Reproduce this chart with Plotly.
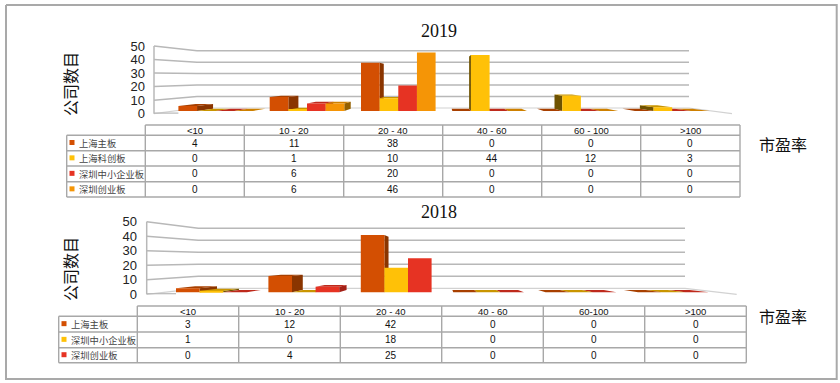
import plotly.graph_objects as go

# ---------- data ----------
categories_2019 = ["<10", "10 - 20", "20 - 40", "40 - 60", "60 - 100", ">100"]
names_2019 = ["上海主板", "上海科创板", "深圳中小企业板", "深圳创业板"]
sh_main_2019 = [4, 11, 38, 0, 0, 0]
sh_star_2019 = [0, 1, 10, 44, 12, 3]
sz_sme_2019 = [0, 6, 20, 0, 0, 0]
sz_gem_2019 = [0, 6, 46, 0, 0, 0]

categories_2018 = ["<10", "10 - 20", "20 - 40", "40 - 60", "60-100", ">100"]
names_2018 = ["上海主板", "深圳中小企业板", "深圳创业板"]
sh_main_2018 = [3, 12, 42, 0, 0, 0]
sz_sme_2018 = [1, 0, 18, 0, 0, 0]
sz_gem_2018 = [0, 4, 25, 0, 0, 0]

y_ticks = [0, 10, 20, 30, 40, 50]
W, H = 840, 383

# colour sets: front, side, top
C_MAIN = ("#D34F02", "#8A3500", "#A84000")
C_YEL = ("#FFC107", "#6E5200", "#C99500")
C_RED = ("#E63323", "#A32016", "#BE2A1C")
C_ORA = ("#F59506", "#946000", "#CE8000")
GRID = "#B8B8B8"
TBL = "#A8A8A8"
CJK = "Noto Sans CJK SC"

panels = [
    dict(year="2019", cats=categories_2019, names=names_2019,
         series=[sh_main_2019, sh_star_2019, sz_sme_2019, sz_gem_2019],
         colors=[C_MAIN, C_YEL, C_RED, C_ORA],
         fx0=154, fx1=732, fy0=113.7, fy50=46, bx0=197, bx1=689, by0=108, by50=50.7,
         vx=443, vy=78, k=0.935, base=111, scale=1.27, start=178.4, bw=18.65, step=91.3,
         tick_pos=145, title_xy=(439, 31), ytitle_xy=(70, 84), xlab_xy=(783, 144),
         tx=[66.7, 145.3, 244.3, 343.7, 442.7, 541.7, 640.7, 740],
         ty=[125, 135.3, 150.7, 166, 181.7, 197], sw_x=72, txt_x=76.7),
    dict(year="2018", cats=categories_2018, names=names_2018,
         series=[sh_main_2018, sz_sme_2018, sz_gem_2018],
         colors=[C_MAIN, C_YEL, C_RED],
         fx0=146.7, fx1=736.7, fy0=294.3, fy50=221.7, bx0=198.3, bx1=685, by0=288.3, by50=228.3,
         vx=441.7, vy=260, k=0.928, base=292.3, scale=1.365, start=176, bw=23.6, step=92.4,
         tick_pos=137, title_xy=(439, 211.7), ytitle_xy=(70, 269), xlab_xy=(783, 315.7),
         tx=[58.7, 137.3, 238.7, 340.3, 441.7, 543.3, 644.7, 746.3],
         ty=[306, 316.3, 332, 347.7, 362.7], sw_x=64, txt_x=69.3),
]

fig = go.Figure()
annots = []


def lines(xs, ys, color, width):
    fig.add_trace(go.Scatter(x=xs, y=ys, mode="lines", line=dict(color=color, width=width),
                             hoverinfo="skip", showlegend=False, xaxis="x", yaxis="y"))


def poly(pts, color):
    fig.add_trace(go.Scatter(x=[p[0] for p in pts] + [pts[0][0]], y=[p[1] for p in pts] + [pts[0][1]],
                             mode="lines", fill="toself", fillcolor=color, line=dict(width=0),
                             hoverinfo="skip", showlegend=False, xaxis="x", yaxis="y"))


# outer frame
lines([6, 836.7, 836.7, 6, 6], [5, 5, 379, 379, 5], "#A9A9A9", 2)

for p in panels:
    # back wall and left wall grid
    fy = lambda v: p["fy0"] + (p["fy50"] - p["fy0"]) * v / 50
    by = lambda v: p["by0"] + (p["by50"] - p["by0"]) * v / 50
    for v in y_ticks:
        if v == 0:
            lines([p["fx0"], p["bx0"], p["bx1"], p["fx1"]], [fy(0), by(0), by(0), fy(0)], "#D2D2D2", 1.2)
        else:
            lines([p["fx0"], p["bx0"], p["bx1"]], [fy(v), by(v), by(v)], GRID, 1.5)
    lines([p["fx0"], p["fx0"]], [fy(0), fy(50)], GRID, 1.5)
    lines([p["fx0"], p["start"]], [fy(0) - 0.6, fy(0) - 0.6], GRID, 1.2)

    # 3D faces, farthest from the view centre first
    n = len(p["series"])
    proj = lambda x, y: (p["vx"] + p["k"] * (x - p["vx"]), p["vy"] + p["k"] * (y - p["vy"]))
    bars = []
    for s, vals in enumerate(p["series"]):
        for g, v in enumerate(vals):
            xl = p["start"] + g * p["step"] + s * p["bw"]
            bars.append((xl, xl + p["bw"], v, p["colors"][s]))
    bars.sort(key=lambda b: -abs((b[0] + b[1]) / 2 - p["vx"]))
    for xl, xr, v, col in bars:
        yt = p["base"] - v * p["scale"]
        if xr < p["vx"]:
            xs = xr
        elif xl > p["vx"]:
            xs = xl
        else:
            xs = None
        if xs is not None and v > 0:
            poly([(xs, yt), (xs, p["base"]), proj(xs, p["base"]), proj(xs, yt)], col[1])
        if yt > p["vy"]:
            poly([(xl, yt), (xr, yt), proj(xr, yt), proj(xl, yt)], col[2])

    # table grid
    tx, ty = p["tx"], p["ty"]
    xs, ys = [], []
    for i, y in enumerate(ty):
        xs += [tx[1] if i == 0 else tx[0], tx[-1], None]
        ys += [y, y, None]
    for j, x in enumerate(tx):
        xs += [x, x, None]
        ys += [ty[1] if j == 0 else ty[0], ty[-1], None]
    lines(xs, ys, TBL, 1.4)

    # table text
    for j, c in enumerate(p["cats"]):
        annots.append(dict(x=(tx[j + 1] + tx[j + 2]) / 2, y=(ty[0] + ty[1]) / 2, text=c,
                           font=dict(family="Liberation Sans", size=9.5, color="#111")))
    for i, name in enumerate(p["names"]):
        yc = (ty[i + 1] + ty[i + 2]) / 2
        annots.append(dict(x=p["txt_x"], y=yc, text=name, xanchor="left",
                           font=dict(family=CJK, size=9.3, color="#444")))
        fig.add_trace(go.Scatter(x=[p["sw_x"]], y=[yc - 0.5], mode="markers",
                                 marker=dict(symbol="square", size=5, color=p["colors"][i][0]),
                                 hoverinfo="skip", showlegend=False, xaxis="x", yaxis="y"))
        for j, v in enumerate(p["series"][i]):
            annots.append(dict(x=(tx[j + 1] + tx[j + 2]) / 2, y=yc, text=str(v),
                               font=dict(family="Liberation Sans", size=10, color="#111")))

    annots.append(dict(x=p["title_xy"][0], y=p["title_xy"][1], text=p["year"],
                       font=dict(family="Liberation Serif", size=18, color="#111")))
    annots.append(dict(x=p["ytitle_xy"][0], y=p["ytitle_xy"][1], text="公司数目", textangle=-90,
                       font=dict(family=CJK, size=16, color="#111")))
    annots.append(dict(x=p["xlab_xy"][0], y=p["xlab_xy"][1], text="市盈率",
                       font=dict(family=CJK, size=16, color="#111")))

layout = dict(
    width=W, height=H, margin=dict(l=0, r=0, t=0, b=0, pad=0, autoexpand=False), autosize=False,
    paper_bgcolor="white", plot_bgcolor="rgba(0,0,0,0)", showlegend=False,
    bargroupgap=0,
    xaxis=dict(domain=[0, 1], range=[0, W], visible=False),
    yaxis=dict(domain=[0, 1], range=[H, 0], visible=False),
)

# front faces through bar axes
for idx, p in enumerate(panels):
    n = len(p["series"])
    xid, yid = idx * 2 + 2, idx * 2 + 3
    tick_id = idx * 2 + 4
    center0 = p["start"] + n * p["bw"] / 2
    dom_x0, dom_x1 = p["fx0"], p["fx1"]
    dom_top, dom_bot = p["fy50"] - 2, p["fy0"]
    for s, vals in enumerate(p["series"]):
        fig.add_trace(go.Bar(x=list(range(len(vals))), y=vals, name=p["names"][s],
                             width=p["bw"] / p["step"],
                             offset=(s - n / 2) * p["bw"] / p["step"],
                             marker=dict(color=p["colors"][s][0], line=dict(width=0)),
                             xaxis=f"x{xid}", yaxis=f"y{yid}", showlegend=False))
    layout[f"xaxis{xid}"] = dict(domain=[dom_x0 / W, dom_x1 / W],
                                 range=[(dom_x0 - center0) / p["step"], (dom_x1 - center0) / p["step"]],
                                 visible=False, anchor=f"y{yid}")
    layout[f"yaxis{yid}"] = dict(domain=[1 - dom_bot / H, 1 - dom_top / H],
                                 range=[(p["base"] - dom_bot) / p["scale"], (p["base"] - dom_top) / p["scale"]],
                                 visible=False, anchor=f"x{xid}")
    # visible value axis on the front plane
    fig.add_trace(go.Scatter(x=[0], y=[0], mode="lines", line=dict(width=0), hoverinfo="skip",
                             showlegend=False, xaxis=f"x{xid}", yaxis=f"y{tick_id}"))
    layout[f"yaxis{tick_id}"] = dict(domain=[1 - p["fy0"] / H, 1 - p["fy50"] / H], range=[0, 50],
                                     tickvals=y_ticks, anchor="free", position=p["tick_pos"] / W,
                                     showgrid=False, zeroline=False, showline=False, ticks="",
                                     tickfont=dict(family="Liberation Sans", size=13, color="#222"))

for a in annots:
    a.update(xref="x", yref="y", showarrow=False)
    a.setdefault("xanchor", "center")
    a.setdefault("yanchor", "middle")
layout["annotations"] = annots
fig.update_layout(**layout)
fig.write_html("out.html", config={"displayModeBar": False},
               post_script="document.body.style.margin='0';")
